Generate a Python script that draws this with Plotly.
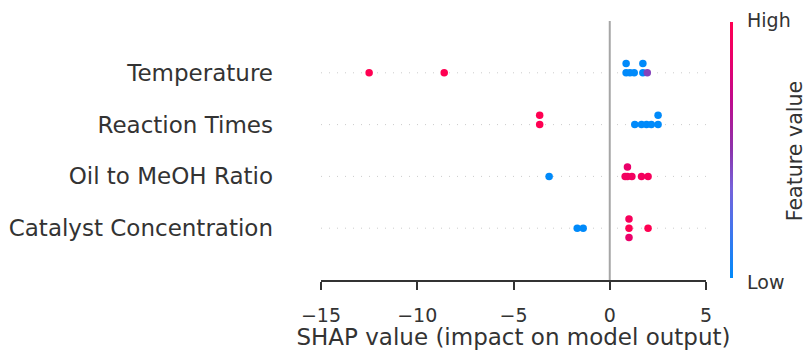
import numpy as np
import plotly.graph_objects as go

# ---- data ----
features = ["Catalyst Concentration", "Oil to MeOH Ratio", "Reaction Times", "Temperature"]

temperature_shap = [-12.5, -8.6, 0.85, 0.85, 1.05, 1.27, 1.72, 1.72, 1.95]
temperature_val = [1.0, 1.0, 0.0, 0.0, 0.0, 0.0, 0.0, 0.0, 0.45]

reaction_shap = [-3.64, -3.64, 1.30, 1.65, 1.91, 2.16, 2.51, 2.51]
reaction_val = [1.0, 1.0, 0.0, 0.0, 0.0, 0.0, 0.0, 0.0]

oil_shap = [-3.15, 0.80, 0.92, 0.92, 1.15, 1.65, 1.99]
oil_val = [0.0, 0.92, 0.92, 0.86, 0.92, 0.93, 0.95]

catalyst_shap = [-1.69, -1.38, 1.0, 1.0, 1.0, 1.99]
catalyst_val = [0.0, 0.0, 1.0, 0.95, 0.86, 1.0]

xticks = [-15, -10, -5, 0, 5]

rows = [
    (catalyst_shap, catalyst_val),
    (oil_shap, oil_val),
    (reaction_shap, reaction_val),
    (temperature_shap, temperature_val),
]

red_blue = [
    [0.0, "rgb(0,138,250)"],
    [0.2, "rgb(70,116,236)"],
    [0.35, "rgb(118,98,218)"],
    [0.5, "rgb(140,52,172)"],
    [0.7, "rgb(192,10,140)"],
    [0.85, "rgb(232,0,108)"],
    [1.0, "rgb(255,0,82)"],
]


def beeswarm_offsets(shaps, row_height=0.4, nbins=100):
    s = np.asarray(shaps, dtype=float)
    quant = np.round(nbins * (s - s.min()) / (s.max() - s.min() + 1e-8))
    inds = np.argsort(quant, kind="stable")
    layer = 0
    last_bin = -1
    ys = np.zeros(len(s))
    for ind in inds:
        if quant[ind] != last_bin:
            layer = 0
        ys[ind] = np.ceil(layer / 2) * ((layer % 2) * 2 - 1)
        layer += 1
        last_bin = quant[ind]
    ys *= 0.9 * (row_height / np.max(ys + 1))
    return ys


fig = go.Figure()

shapes = []
for pos in range(len(features)):
    shapes.append(dict(type="line", xref="paper", yref="y", x0=0, x1=1.005, y0=pos, y1=pos,
                       line=dict(color="#cccccc", width=1, dash="1px,7px"), layer="below"))
shapes.append(dict(type="line", xref="x", yref="y", x0=0, x1=0, y0=-1, y1=len(features),
                   line=dict(color="#a6a6a6", width=2), layer="below"))

for pos, (sv, fv) in enumerate(rows):
    ys = pos + beeswarm_offsets(sv)
    fig.add_trace(go.Scatter(
        x=sv, y=ys, mode="markers",
        marker=dict(size=7.5, color=fv, coloraxis="coloraxis", line=dict(width=0)),
        showlegend=False, hoverinfo="x",
    ))

fig.update_layout(
    width=808, height=350,
    margin=dict(l=321, r=102, t=21, b=70),
    paper_bgcolor="white", plot_bgcolor="white",
    font=dict(family="DejaVu Sans", color="#333333"),
    shapes=shapes,
    coloraxis=dict(
        colorscale=red_blue, cmin=0, cmax=1,
        colorbar=dict(
            x=1.063, xanchor="left", xpad=0, ypad=0,
            y=0.5, yanchor="middle", len=0.99, lenmode="fraction",
            thickness=3, outlinewidth=0, showticklabels=False, ticks="",
        ),
    ),
    xaxis=dict(
        range=[-15, 5], tickvals=xticks, ticktext=[("\u2212" + str(-t)) if t < 0 else str(t) for t in xticks],
        showgrid=False, zeroline=False, showline=True, linecolor="#333333", linewidth=2,
        ticks="outside", ticklen=8, tickwidth=2, tickcolor="#333333",
        tickfont=dict(size=19, color="#333333"), ticklabelstandoff=9, automargin=False,
        title=dict(text="SHAP value (impact on model output)", font=dict(size=23, color="#333333"), standoff=0),
    ),
    yaxis=dict(
        range=[-1, len(features)], tickvals=list(range(len(features))), ticktext=features,
        showgrid=False, zeroline=False, showline=False, ticks="", automargin=False,
        tickfont=dict(size=23, color="#333333"), ticklabelstandoff=47,
    ),
    annotations=[
        dict(text="High", xref="paper", yref="paper", x=1.101, y=1.004, xanchor="left", yanchor="middle",
             showarrow=False, font=dict(size=19, color="#333333")),
        dict(text="Low", xref="paper", yref="paper", x=1.101, y=-0.008, xanchor="left", yanchor="middle",
             showarrow=False, font=dict(size=19, color="#333333")),
        dict(text="Feature value", xref="paper", yref="paper", x=1.232, y=0.498, xanchor="center", yanchor="middle",
             textangle=-90, showarrow=False, font=dict(size=20.6, color="#333333")),
    ],
)

fig.write_html("out.html")
